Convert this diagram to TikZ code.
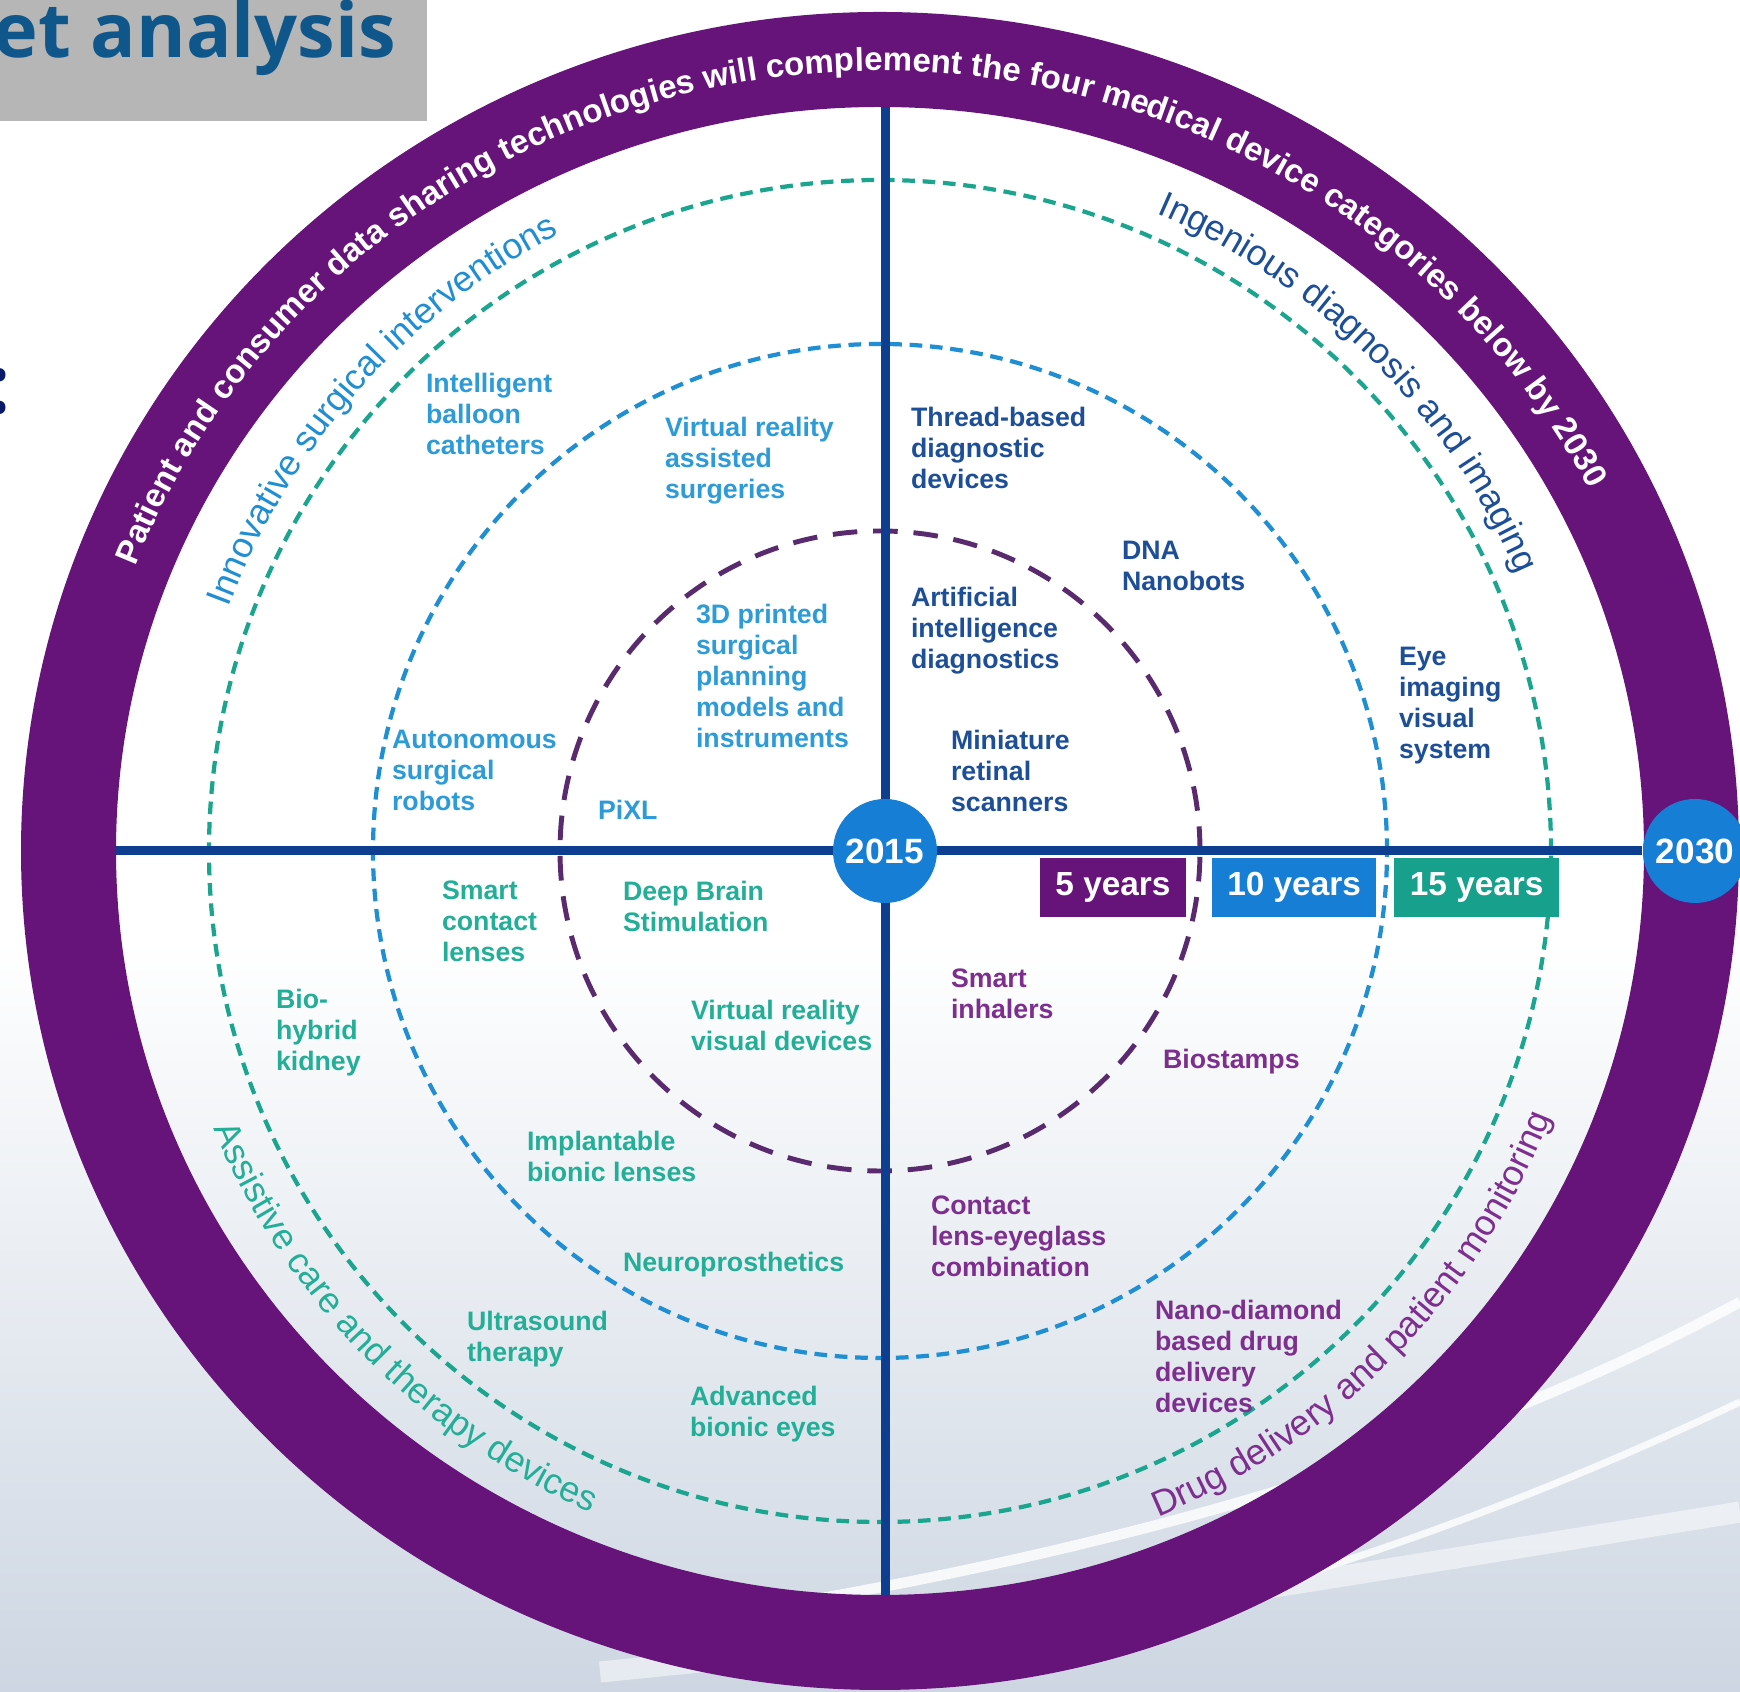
\documentclass[tikz,border=0pt]{standalone}
\usepackage{fontspec}
\setmainfont{Liberation Sans}
\newfontfamily\titlefont{Open Sans}
\usetikzlibrary{positioning, decorations.text}

\definecolor{ringpurple}{HTML}{66147A}
\definecolor{axisblue}{HTML}{0D3E8F}
\definecolor{ballblue}{HTML}{167FD5}
\definecolor{boxteal}{HTML}{17A08B}
\definecolor{dashpurple}{HTML}{5A2A6E}
\definecolor{dashblue}{HTML}{1F8ED3}
\definecolor{dashgreen}{HTML}{1BA58F}
\definecolor{surgblue}{HTML}{2C9BD8}
\definecolor{diagblue}{HTML}{1D4E98}
\definecolor{careteal}{HTML}{22AE97}
\definecolor{drugpurple}{HTML}{7D2E8E}
\definecolor{titlegray}{HTML}{B6B6B6}
\definecolor{titleblue}{HTML}{0F578A}
\definecolor{colonblue}{HTML}{0A1A6A}
\definecolor{bgblue}{HTML}{CDD6E2}

\newcommand\ringfont{\fontsize{9.4}{10}\selectfont\bfseries}
\newcommand\catfont{\fontsize{10.2}{11}\selectfont}

\begin{document}
\begin{tikzpicture}[x=1cm,y=1cm,semithick]
			
			\tikzstyle{every node}=[inner sep=0pt]
			
			\tikzstyle{item}=[anchor=north west,align=left,font=\bfseries\fontsize{7.6}{8.8}\selectfont]
			\tikzstyle{surg}=[item,text=surgblue]
			\tikzstyle{diag}=[item,text=diagblue]
			\tikzstyle{care}=[item,text=careteal]
			\tikzstyle{drug}=[item,text=drugpurple]
			\tikzstyle{yearbox}=[rectangle,minimum height=0.59cm,text=white,font=\bfseries\fontsize{9.5}{10}\selectfont]
			\tikzstyle{yearball}=[circle,fill=ballblue,minimum size=1.04cm,text=white,font=\bfseries\fontsize{10}{10}\selectfont]
			\tikzstyle{fiveyr}=[draw=dashpurple,line width=1.4pt,dash pattern=on 7pt off 4.5pt]
			\tikzstyle{tenyr}=[draw=dashblue,line width=1.2pt,dash pattern=on 3.6pt off 2.2pt]
			\tikzstyle{fifteenyr}=[draw=dashgreen,line width=1.2pt,dash pattern=on 3.6pt off 2.2pt]
			\tikzstyle{axis}=[draw=axisblue,line width=0.09cm]
			
			\useasboundingbox (0,0) rectangle (17.40,16.92);
			\fill[white] (0,0) rectangle (17.40,16.92);
			\shade[top color=white,bottom color=bgblue] (0,0) rectangle (17.40,7.5);
			\draw[white,line width=6pt,opacity=.5] (6,0.2) .. controls (10,0.6) .. (17.4,1.8);
			\draw[white,line width=2pt,opacity=.8] (10,0.4) .. controls (13,1.0) and (15.5,2.0) .. (17.4,2.9);
			\draw[white,line width=3pt,opacity=.8] (8.0,0.9) .. controls (12,1.6) and (15,2.6) .. (17.4,3.9);
			
			% title strip
			\fill[titlegray] (0,15.71) rectangle (4.27,16.92);
			\node[anchor=base east,text=titleblue,font=\titlefont\bfseries\fontsize{21.5}{24}\selectfont] (T) at (3.97,16.34) {et analysis};
			\node[anchor=base east,text=colonblue,font=\titlefont\bfseries\fontsize{23}{26}\selectfont] (TC) at (0.12,12.78) {:};
			
			\coordinate (RC) at (8.80,8.41);
			
			% rings
			\draw[fifteenyr] (RC) circle[radius=6.71];
			\draw[tenyr] (RC) circle[radius=5.07];
			\draw[fiveyr] (RC) circle[radius=3.20];
			
			\node[yearball] (Y2030) at (16.95,8.41) {2030};
			\coordinate (AT) at (8.85,15.86);
			\coordinate (AB) at (8.85,0.96);
			\coordinate (AL) at (1.16,8.41);
			\draw[axis] (AT) -- (AB);
			\draw[axis] (AL) -- (Y2030);
			
			\draw[ringpurple,line width=0.95cm] (RC) ellipse[x radius=8.115,y radius=7.915];
			\node[yearball] (Y2030) at (16.95,8.41) {2030};
			\node[yearball] (Y2015) at (8.85,8.41) {2015};
			
			\path[decorate,decoration={text along path,text align=center,text color=white,
				text={|\ringfont|Patient and consumer data sharing technologies will complement the four medical device categories below by 2030}}]
				([shift={(RC)}]160.5:8.0 and 7.8) arc[start angle=160.5,end angle=25.7,x radius=8.0,y radius=7.8];
			
			\path[decorate,decoration={text along path,text align=center,text color=dashblue,
				text={|\catfont|Innovative surgical interventions}}]
				([shift={(RC)}]160:6.95) arc[start angle=160,end angle=117,radius=6.95];
			\path[decorate,decoration={text along path,text align=center,text color=diagblue,
				text={|\catfont|Ingenious diagnosis and imaging}}]
				([shift={(RC)}]67:6.95) arc[start angle=67,end angle=23,radius=6.95];
			\path[decorate,decoration={text along path,text align=center,text color=careteal,
				text={|\catfont|Assistive care and therapy devices}}]
				([shift={(RC)}]203:7.22) arc[start angle=203,end angle=246,radius=7.22];
			\path[decorate,decoration={text along path,text align=center,text color=drugpurple,
				text={|\catfont|Drug delivery and patient monitoring}}]
				([shift={(RC)}]292:7.22) arc[start angle=292,end angle=339,radius=7.22];
			
			% horizon boxes
			\node[yearbox,fill=ringpurple,minimum width=1.46cm] (B5) at (11.13,8.045) {5 years};
			\node[yearbox,fill=ballblue,minimum width=1.64cm] (B10) [right=0.24 of B5] {10 years};
			\node[yearbox,fill=boxteal,minimum width=1.65cm] (B15) [right=0.16 of B10] {15 years};
			
			% surgical interventions
			\node[surg] (IBC) at (4.25,13.20) {Intelligent\\balloon\\catheters};
			\node[surg] (VRS) at (6.64,12.76) {Virtual reality\\assisted\\surgeries};
			\node[surg] (TDP) at (6.95,10.89) {3D printed\\surgical\\planning\\models and\\instruments};
			\node[surg] (ASR) at (3.91,9.63) {Autonomous\\surgical\\robots};
			\node[surg] (PX) at (5.97,8.93) {PiXL};
			
			% diagnosis and imaging
			\node[diag] (TBD) at (9.10,12.86) {Thread-based\\diagnostic\\devices};
			\node[diag] (DNA) at (11.21,11.52) {DNA\\Nanobots};
			\node[diag] (AID) at (9.10,11.06) {Artificial\\intelligence\\diagnostics};
			\node[diag] (MRS) at (9.50,9.63) {Miniature\\retinal\\scanners};
			\node[diag] (EIV) at (13.98,10.46) {Eye\\imaging\\visual\\system};
			
			% care and therapy
			\node[care] (SCL) at (4.41,8.12) {Smart\\contact\\lenses};
			\node[care] (DBS) at (6.22,8.12) {Deep Brain\\Stimulation};
			\node[care] (BHK) at (2.75,7.04) {Bio-\\hybrid\\kidney};
			\node[care] (VRV) at (6.90,6.93) {Virtual reality\\visual devices};
			\node[care] (IBL) at (5.26,5.62) {Implantable\\bionic lenses};
			\node[care] (NP) at (6.22,4.41) {Neuroprosthetics};
			\node[care] (UT) at (4.66,3.82) {Ultrasound\\therapy};
			\node[care] (ABE) at (6.89,3.07) {Advanced\\bionic eyes};
			
			% drug delivery and monitoring
			\node[drug] (SI) at (9.50,7.24) {Smart\\inhalers};
			\node[drug] (BS) at (11.62,6.44) {Biostamps};
			\node[drug] (CLE) at (9.30,4.97) {Contact\\lens-eyeglass\\combination};
			\node[drug] (NDD) at (11.54,3.93) {Nano-diamond\\based drug\\delivery\\devices};
			
		\end{tikzpicture}
\end{document}
